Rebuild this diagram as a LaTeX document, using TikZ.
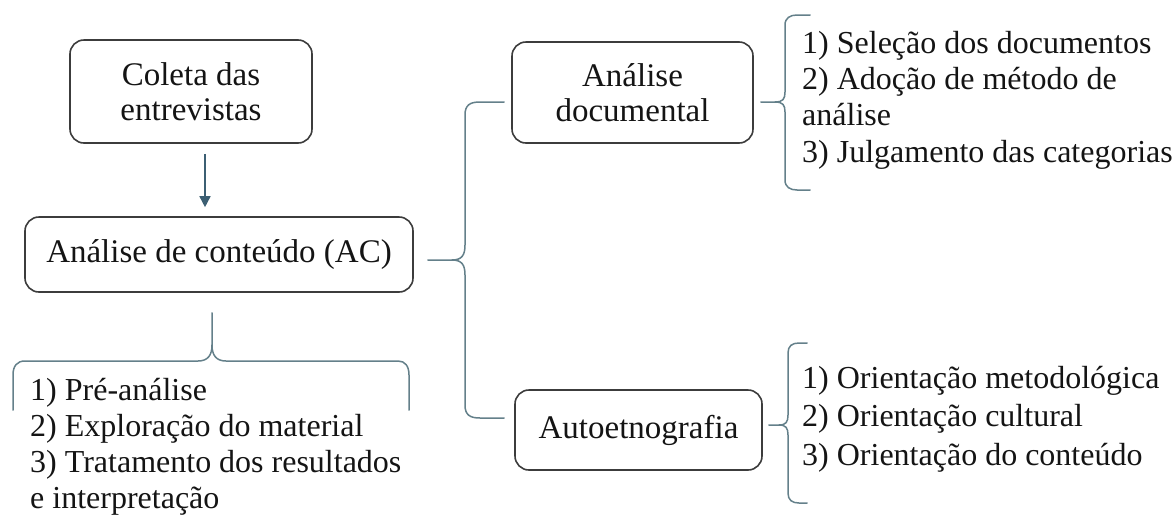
\documentclass[tikz,border=0pt]{standalone}
\usepackage{fontspec}
\setmainfont{Liberation Serif}
\usetikzlibrary{calc,arrows.meta}
\definecolor{boxline}{RGB}{60,60,60}
\definecolor{txt}{RGB}{20,20,20}
\definecolor{conn}{RGB}{100,128,138}
\definecolor{arr}{RGB}{60,95,115}
\tikzset{
  box/.style={draw=boxline, line width=1.6pt, rounded corners=14pt, align=center, text=txt, inner sep=0pt},
  txtfont/.style={font=\fontsize{33}{35}\selectfont},
  listtxt/.style={align=left, text=txt, inner sep=0pt, anchor=base west, font=\fontsize{32}{36.3}\selectfont},
  brace/.style={draw=conn, line width=1.5pt, line cap=round},
  arrowc/.style={draw=arr, line width=1.5pt, -{Triangle[length=11pt,width=11pt]}}
}
\begin{document}
\begin{tikzpicture}[x=1pt,y=-1pt]
\useasboundingbox (0,0) rectangle (1174,520);
% boxes
\node[box, txtfont, minimum width=242pt, minimum height=103pt] (coleta) at (191,91.5) {Coleta das\\entrevistas};
\node[box, txtfont, minimum width=388pt, minimum height=75pt] (ac) at (219,254.5) {Análise de conteúdo (AC)};
\node[box, txtfont, minimum width=241pt, minimum height=101pt] (doc) at (632.5,92.5) {Análise\\documental};
\node[box, txtfont, minimum width=247pt, minimum height=80pt] (auto) at (638.5,430) {Autoetnografia};
% arrow
\draw[arrowc] ($(coleta.south)+(14,10)$) -- ($(ac.north)+(-14,-9)$);
% lists (anchored at the baseline of their last line)
\node[listtxt, font=\fontsize{32}{36}\selectfont] (l1) at (30,508) {1) Pré-análise\\2) Exploração do material\\3) Tratamento dos resultados\\e interpretação};
\node[listtxt] (l2) at (802,162) {1) Seleção dos documentos\\2) Adoção de método de\\análise\\3) Julgamento das categorias};
\node[listtxt, font=\fontsize{32}{38.5}\selectfont] (l3) at (802,465) {1) Orientação metodológica\\2) Orientação cultural\\3) Orientação do conteúdo};
% main brace AC -> doc / auto
\coordinate (t1) at ($(ac.east)+(14,5.5)$);
\coordinate (d1) at ($(doc.west)+(-7,9.5)$);
\coordinate (a1) at ($(auto.west)+(-10,-12)$);
\draw[brace] (t1) -- (452,260) .. controls (462,260) and (465,255) .. (465,245) -- (465,115)
  .. controls (465,105) and (470,102) .. (480,102) -- (d1);
\draw[brace] (452,260) .. controls (462,260) and (465,265) .. (465,275) -- (465,405)
  .. controls (465,415) and (470,418) .. (480,418) -- (a1);
% doc brace
\coordinate (t2) at ($(doc.east)+(7,9.5)$);
\draw[brace] (t2) -- (775,102) .. controls (783,102) and (785,99) .. (785,92) -- (785,25)
  .. controls (785,18) and (790,15) .. (797,15) -- (810,15);
\draw[brace] (775,102) .. controls (783,102) and (785,105) .. (785,112) -- (785,180)
  .. controls (785,187) and (790,190) .. (797,190) -- (810,190);
% auto brace
\coordinate (t3) at ($(auto.east)+(6,-5)$);
\draw[brace] (t3) -- (779,425) .. controls (786,425) and (788,422) .. (788,415) -- (788,353)
  .. controls (788,346) and (792,343) .. (799,343) -- (807,343);
\draw[brace] (779,425) .. controls (786,425) and (788,428) .. (788,435) -- (788,493)
  .. controls (788,500) and (792,503) .. (799,503) -- (807,503);
% bottom brace under AC
\coordinate (t4) at ($(ac.south)+(-7,20)$);
\draw[brace] (t4) -- (212,345) .. controls (212,355) and (208,361) .. (198,361) -- (25,361)
  .. controls (17,361) and (13,366) .. (13,375) -- (13,410);
\draw[brace] (212,345) .. controls (212,355) and (216,361) .. (226,361) -- (398,361)
  .. controls (405,361) and (409,366) .. (409,375) -- (409,410);
\end{tikzpicture}
\end{document}
